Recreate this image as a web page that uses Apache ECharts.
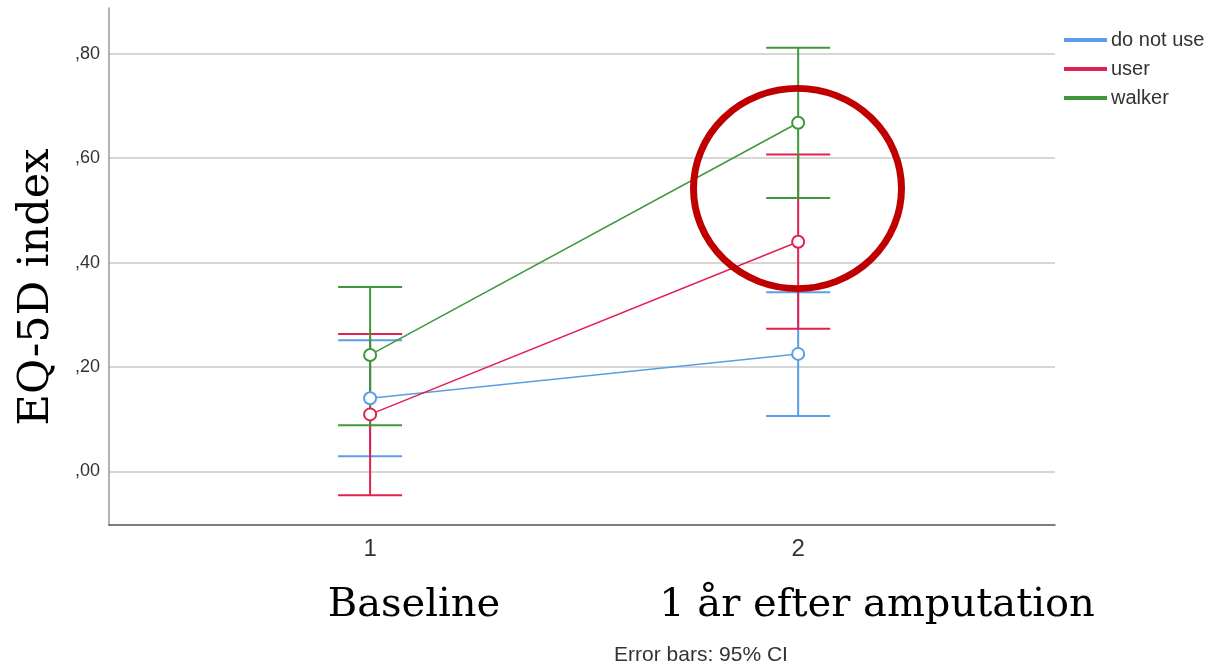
<!DOCTYPE html>
<html><head><meta charset="utf-8">
<script src="https://cdn.jsdelivr.net/npm/echarts@6/dist/echarts.min.js"></script>
<style>html,body{margin:0;padding:0;background:#fff}#c{width:1209px;height:664px}</style>
</head><body><div id="c"></div>
<script>
const timepoints = [1, 2];
const xTickLabels = ['1', '2'];
const groups = ['do not use', 'user', 'walker'];
const meanDoNotUse = [0.140, 0.225];
const lowDoNotUse = [0.029, 0.106];
const highDoNotUse = [0.251, 0.343];
const meanUser = [0.109, 0.440];
const lowUser = [-0.046, 0.273];
const highUser = [0.263, 0.607];
const meanWalker = [0.223, 0.668];
const lowWalker = [0.088, 0.524];
const highWalker = [0.353, 0.812];
const yTicks = [0, 0.2, 0.4, 0.6, 0.8];
const yTickLabels = [',00', ',20', ',40', ',60', ',80'];
const periodLabels = ['Baseline', '1 år efter amputation'];
const yTitle = 'EQ-5D index';
const footnote = 'Error bars: 95% CI';

const colors = ['#5a9de8', '#e2204f', '#3d983d'];
const means = [meanDoNotUse, meanUser, meanWalker];
const lows = [lowDoNotUse, lowUser, lowWalker];
const highs = [highDoNotUse, highUser, highWalker];

function errRender(color) {
  return function (params, api) {
    const x = api.value(0), lo = api.value(1), hi = api.value(2);
    const pLo = api.coord([x, lo]), pHi = api.coord([x, hi]);
    const hw = 32;
    const style = { stroke: color, lineWidth: 2 };
    return { type: 'group', children: [
      { type: 'line', shape: { x1: pLo[0], y1: pLo[1], x2: pHi[0], y2: pHi[1] }, style: style },
      { type: 'line', shape: { x1: pLo[0] - hw, y1: pLo[1], x2: pLo[0] + hw, y2: pLo[1] }, style: style },
      { type: 'line', shape: { x1: pHi[0] - hw, y1: pHi[1], x2: pHi[0] + hw, y2: pHi[1] }, style: style }
    ] };
  };
}

const series = [];
groups.forEach(function (g, k) {
  series.push({
    name: g + ' CI', type: 'custom', renderItem: errRender(colors[k]),
    encode: { x: 0, y: [1, 2] }, z: 2 + k,
    data: timepoints.map(function (t, i) { return [t, lows[k][i], highs[k][i]]; })
  });
});
groups.forEach(function (g, k) {
  series.push({
    name: g, type: 'line', z: 10 + k,
    symbol: 'emptyCircle', symbolSize: 12,
    lineStyle: { color: colors[k], width: 1.5 },
    itemStyle: { color: colors[k], borderColor: colors[k], borderWidth: 1.5 },
    data: timepoints.map(function (t, i) { return [t, means[k][i]]; })
  });
});

function yFmt(v) {
  for (let i = 0; i < yTicks.length; i++) if (Math.abs(yTicks[i] - v) < 1e-6) return yTickLabels[i];
  return '';
}
function xFmt(v) {
  for (let i = 0; i < timepoints.length; i++) if (Math.abs(timepoints[i] - v) < 1e-6) return xTickLabels[i];
  return '';
}

const chart = echarts.init(document.getElementById('c'), null, { renderer: 'canvas' });
chart.setOption({
  animation: false,
  backgroundColor: '#ffffff',
  grid: { left: 109, right: 154, top: 8, bottom: 139, containLabel: false },
  legend: {
    data: groups.map(function (g, k) { return { name: g, itemStyle: { color: colors[k] } }; }),
    orient: 'vertical', left: 1059, top: 25, icon: 'rect', itemWidth: 41, itemHeight: 2, itemGap: 9,
    selectedMode: false,
    textStyle: { fontFamily: 'Liberation Sans, Arial, sans-serif', fontSize: 20, color: '#333' }
  },
  xAxis: {
    type: 'value', min: 0.39, max: 2.6,
    axisLine: { show: true, onZero: false, lineStyle: { color: '#555', width: 1.5 } },
    axisTick: { show: false },
    splitLine: { show: false },
    axisLabel: { customValues: timepoints, formatter: xFmt, margin: 12,
      fontFamily: 'Liberation Sans, Arial, sans-serif', fontSize: 24, color: '#333' }
  },
  yAxis: {
    type: 'value', min: -0.103, max: 0.888,
    axisLine: { show: true, onZero: false, lineStyle: { color: '#9a9a9a', width: 1.5 } },
    axisTick: { show: false, customValues: yTicks },
    splitLine: { show: true, lineStyle: { color: '#c8c8c8', width: 1.5 } },
    axisLabel: { customValues: yTicks, formatter: yFmt, margin: 9,
      fontFamily: 'Liberation Sans, Arial, sans-serif', fontSize: 18, color: '#333' }
  },
  series: series,
  graphic: [
    { type: 'text', x: 37, y: 287, rotation: Math.PI / 2,
      style: { text: yTitle, font: '43px "DejaVu Serif", serif', fill: '#000', align: 'center', verticalAlign: 'middle' } },
    { type: 'text', x: 414, y: 606,
      style: { text: periodLabels[0], font: '40px "DejaVu Serif", serif', fill: '#000', align: 'center', verticalAlign: 'middle' } },
    { type: 'text', x: 877, y: 606,
      style: { text: periodLabels[1], font: '40px "DejaVu Serif", serif', fill: '#000', align: 'center', verticalAlign: 'middle' } },
    { type: 'text', x: 701, y: 655,
      style: { text: footnote, font: '21px "Liberation Sans", Arial, sans-serif', fill: '#333', align: 'center', verticalAlign: 'middle' } },
    { type: 'circle', x: 797.5, y: 188.5, scaleY: 0.962, z: 100,
      shape: { cx: 0, cy: 0, r: 104 },
      style: { fill: 'none', stroke: '#c00000', lineWidth: 7 } }
  ]
});
</script>
</body></html>
